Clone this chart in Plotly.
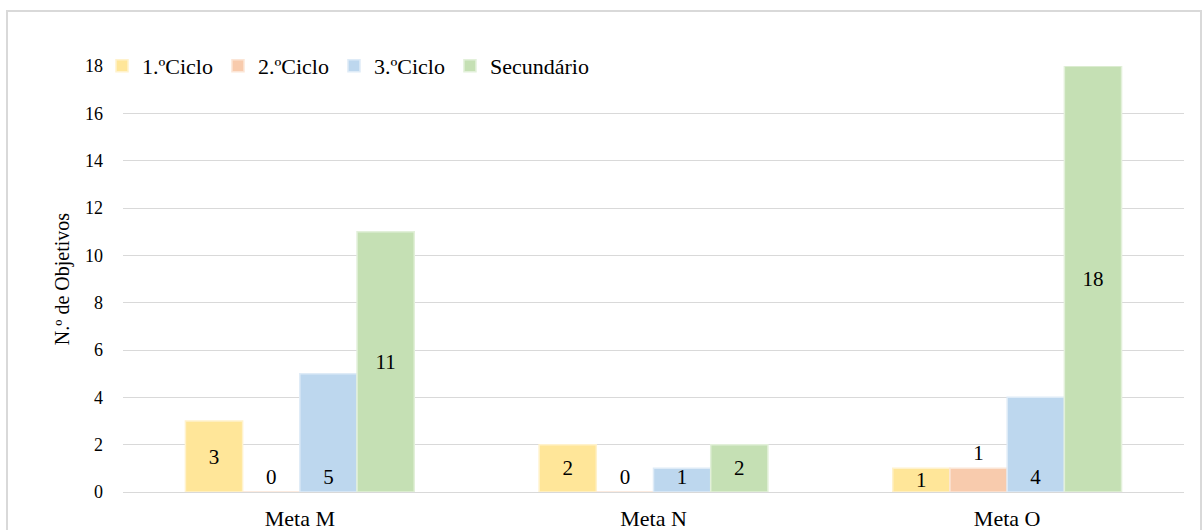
import plotly.graph_objects as go

categories = ["Meta M", "Meta N", "Meta O"]
series_names = ["1.ºCiclo", "2.ºCiclo", "3.ºCiclo", "Secundário"]
ciclo1 = [3, 2, 1]
ciclo2 = [0, 0, 1]
ciclo3 = [5, 1, 4]
secundario = [11, 2, 18]
y_ticks = [0, 2, 4, 6, 8, 10, 12, 14, 16, 18]
y_title = "N.º de Objetivos"

values = [ciclo1, ciclo2, ciclo3, secundario]
fills = ["#FFE699", "#F8CBAD", "#BDD7EE", "#C5E0B4"]
edges = ["#FFF2CC", "#FBE5D6", "#DEEBF7", "#E2F0D9"]
positions = [
    ["inside", "inside", "inside"],
    ["outside", "outside", "outside"],
    ["inside", "inside", "inside"],
    ["inside", "inside", "inside"],
]
anchors = ["middle", "middle", "start", "middle"]

FONT = "Liberation Serif"

fig = go.Figure()
for name, vals, fc, ec, pos, anc in zip(series_names, values, fills, edges, positions, anchors):
    fig.add_trace(go.Bar(
        name=name, x=categories, y=vals,
        marker=dict(color=fc, line=dict(color=ec, width=1.5)),
        text=[str(v) for v in vals], textposition=pos, textangle=0,
        insidetextanchor=anc, constraintext="none",
        textfont=dict(family=FONT, size=21, color="#000000"),
        cliponaxis=False,
    ))

W, H = 1202, 530
L, R, T, B = 123, 18, 66, 38
pw, ph = W - L - R, H - T - B

def px_x(x):
    return (x - L) / pw

def px_y(y):
    return (H - B - y) / ph

fig.update_layout(
    width=W, height=H,
    margin=dict(l=L, r=R, t=T, b=B, autoexpand=False),
    paper_bgcolor="white", plot_bgcolor="white",
    barmode="group", bargap=0.353, bargroupgap=0,
    font=dict(family=FONT, color="#000000"),
    showlegend=True,
    legend=dict(
        orientation="h", x=px_x(102), xanchor="left",
        y=px_y(66), yanchor="middle",
        font=dict(family=FONT, size=22, color="#000000"),
        bgcolor="rgba(0,0,0,0)",
        traceorder="normal", itemclick=False, itemwidth=30,
    ),
    xaxis=dict(
        showgrid=False, showline=False, zeroline=False,
        tickfont=dict(family=FONT, size=22, color="#000000"),
        ticks="", ticklabelstandoff=11, automargin=False,
    ),
    yaxis=dict(
        range=[0, 18], tickvals=y_ticks, ticktext=[str(v) for v in y_ticks],
        showgrid=True, gridcolor="#D9D9D9", gridwidth=1.3,
        zeroline=True, zerolinecolor="#D9D9D9", zerolinewidth=1.3,
        showline=False, ticks="", ticklabelstandoff=19, automargin=False,
        tickfont=dict(family=FONT, size=18, color="#000000"),
        title=dict(text=y_title, standoff=10,
                   font=dict(family=FONT, size=20, color="#000000")),
    ),
    shapes=[dict(
        type="rect", xref="paper", yref="paper",
        x0=px_x(7), x1=px_x(1201), y0=px_y(535), y1=px_y(11),
        line=dict(color="#D9D9D9", width=2), fillcolor="rgba(0,0,0,0)",
        layer="below",
    )],
)

fig.write_html(
    "out.html",
    config={"displayModeBar": False},
    post_script="document.body.style.margin='0';document.body.style.overflow='hidden';",
)
